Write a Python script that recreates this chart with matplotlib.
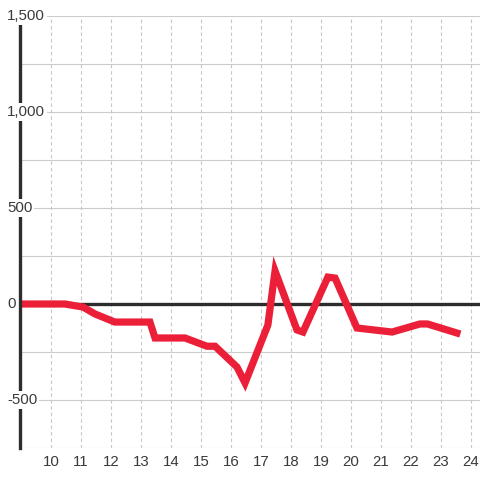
import matplotlib
matplotlib.use("Agg")
import matplotlib.pyplot as plt
import matplotlib.transforms as mtransforms

# 数据
x = [8.97, 10.47, 11.07, 11.47, 12.13, 13.3, 13.47, 14.47, 15.2, 15.47,
     16.2, 16.47, 17.23, 17.47, 18.2, 18.4, 19.23, 19.47, 20.2, 21.37,
     22.3, 22.55, 23.53]
y = [0, 0, -16, -52, -94, -94, -177, -177, -220, -220,
     -328, -411, -110, 172, -135, -146, 140, 135, -125, -146,
     -104, -104, -151]
x_ticks = list(range(10, 25))
y_grid = [-750, -500, -250, 0, 250, 500, 750, 1000, 1250, 1500]
y_labels = ["1,500", "1,000", "500", "0", "-500"]
y_label_vals = [1500, 1000, 500, 0, -500]

plt.rcParams['font.family'] = ['Liberation Sans', 'DejaVu Sans']
txt = '#3a3a3a'

fig = plt.figure(figsize=(4.8, 4.8), dpi=100)
ax = fig.add_axes([20/480, 32/480, 460/480, 432/480])

ax.set_xlim(8.97, 24.3)
ax.set_ylim(-750, 1500)

# 网格
for v in y_grid:
    ax.axhline(v, color='#cccccc', lw=0.8, zorder=1)
for v in x_ticks:
    ax.axvline(v, color='#c8c8c8', lw=0.8, ls=(0, (3.2, 2.6)), zorder=1)

ax.axhline(0, color='#2d2d2d', lw=2.4, zorder=2)
ax.plot(x, y, color='#ec1f38', lw=5.2, solid_joinstyle='miter', zorder=3)

for s in ['top', 'right', 'bottom']:
    ax.spines[s].set_visible(False)
ax.spines['left'].set_color('#2d2d2d')
ax.spines['left'].set_linewidth(2.4)
ax.spines['left'].set_zorder(4)

ax.set_xticks(x_ticks)
ax.set_xticklabels([str(v) for v in x_ticks])
ax.set_yticks([])
ax.tick_params(axis='x', length=0, pad=5, labelsize=10.8, labelcolor=txt)

# y轴标签，白底压在轴线上
trans = mtransforms.blended_transform_factory(ax.transAxes, ax.transData)
for v, s in zip(y_label_vals, y_labels):
    ax.text(-13/460, v, s, transform=trans, ha='left', va='center',
            fontsize=10.8, color=txt, zorder=6, clip_on=False,
            bbox=dict(facecolor='white', edgecolor='none', pad=1.2))

fig.savefig("out.png", dpi=100, facecolor='white')
